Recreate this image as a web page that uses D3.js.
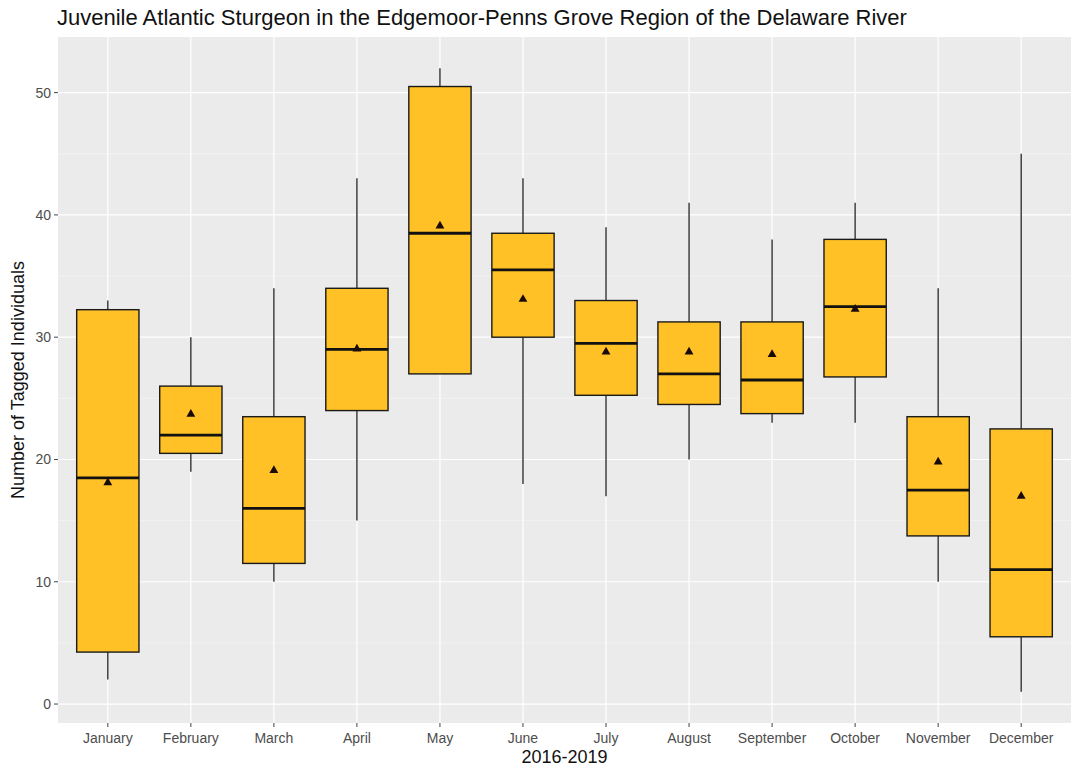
<!DOCTYPE html>
<html>
<head>
<meta charset="utf-8">
<script src="https://cdn.jsdelivr.net/npm/d3@7/dist/d3.min.js"></script>
<style>
  html, body { margin: 0; padding: 0; background: #ffffff; }
  svg { display: block; font-family: "Liberation Sans", Arial, sans-serif; }
</style>
</head>
<body>
<svg id="chart" width="1073" height="783"></svg>
<script>
// Monthly counts of tagged juvenile sturgeon, 2016-2019
const months = ["January", "February", "March", "April", "May", "June",
                "July", "August", "September", "October", "November", "December"];
const whiskerLow  = [2,    19,   10,   15, 27,   18,   17,    20,    23,    23,    10,   1];
const q1          = [4.25, 20.5, 11.5, 24, 27,   30,   25.25, 24.5,  23.75, 26.75, 13.75, 5.5];
const medians     = [18.5, 22,   16,   29, 38.5, 35.5, 29.5,  27,    26.5,  32.5,  17.5, 11];
const q3          = [32.25, 26,  23.5, 34, 50.5, 38.5, 33,    31.25, 31.25, 38,    23.5, 22.5];
const whiskerHigh = [33,   30,   34,   43, 52,   43,   39,    41,    38,    41,    34,   45];
const means       = [18.1, 23.7, 19.1, 29.05, 39.1, 33.1, 28.8, 28.8, 28.6, 32.3, 19.8, 17.0];
const yTicks = [0, 10, 20, 30, 40, 50];
const yMinorTicks = [5, 15, 25, 35, 45];

const rows = months.map((m, i) => ({
  month: m, lo: whiskerLow[i], q1: q1[i], med: medians[i],
  q3: q3[i], hi: whiskerHigh[i], mean: means[i]
}));

const svg = d3.select("#chart");
const panel = { left: 58, right: 1071, top: 37, bottom: 723 };

// 5% expansion on each side of the data range
const dataMin = d3.min(whiskerLow), dataMax = d3.max(whiskerHigh);
const pad = (dataMax - dataMin) * 0.05;
const y = d3.scaleLinear()
  .domain([dataMin - pad, dataMax + pad])
  .range([panel.bottom, panel.top]);

// discrete x scale: categories 1..12 with 0.6 units of padding at each end
const xPos = d3.scaleLinear()
  .domain([0.4, months.length + 0.6])
  .range([panel.left, panel.right]);
const cx = m => xPos(months.indexOf(m) + 1);
const boxW = xPos(1.75) - xPos(1);

// Panel background
svg.append("rect")
  .attr("x", panel.left).attr("y", panel.top)
  .attr("width", panel.right - panel.left)
  .attr("height", panel.bottom - panel.top)
  .attr("fill", "#EBEBEB");

// Grid lines
const grid = svg.append("g");
grid.selectAll("line.minor").data(yMinorTicks).join("line")
  .attr("x1", panel.left).attr("x2", panel.right)
  .attr("y1", d => y(d)).attr("y2", d => y(d))
  .attr("stroke", "#F7F7F7").attr("stroke-width", 0.6);
grid.selectAll("line.major").data(yTicks).join("line")
  .attr("x1", panel.left).attr("x2", panel.right)
  .attr("y1", d => y(d)).attr("y2", d => y(d))
  .attr("stroke", "#FFFFFF").attr("stroke-width", 1.2);
grid.selectAll("line.vert").data(months).join("line")
  .attr("x1", d => cx(d)).attr("x2", d => cx(d))
  .attr("y1", panel.top).attr("y2", panel.bottom)
  .attr("stroke", "#FFFFFF").attr("stroke-width", 1.2);

// Boxplots
const boxes = svg.append("g").selectAll("g").data(rows).join("g");
boxes.append("line")
  .attr("x1", d => cx(d.month)).attr("x2", d => cx(d.month))
  .attr("y1", d => y(d.hi)).attr("y2", d => y(d.q3))
  .attr("stroke", "#222").attr("stroke-width", 1.3);
boxes.append("line")
  .attr("x1", d => cx(d.month)).attr("x2", d => cx(d.month))
  .attr("y1", d => y(d.q1)).attr("y2", d => y(d.lo))
  .attr("stroke", "#222").attr("stroke-width", 1.3);
boxes.append("rect")
  .attr("x", d => cx(d.month) - boxW / 2)
  .attr("width", boxW)
  .attr("y", d => y(d.q3))
  .attr("height", d => y(d.q1) - y(d.q3))
  .attr("fill", "#FFC125")
  .attr("stroke", "#1a1a1a").attr("stroke-width", 1.4);
boxes.append("line")
  .attr("x1", d => cx(d.month) - boxW / 2).attr("x2", d => cx(d.month) + boxW / 2)
  .attr("y1", d => y(d.med)).attr("y2", d => y(d.med))
  .attr("stroke", "#111").attr("stroke-width", 2.8);
// Mean markers (filled triangles)
const tri = d3.symbol().type(d3.symbolTriangle).size(34);
boxes.append("path")
  .attr("d", tri)
  .attr("transform", d => `translate(${cx(d.month)},${y(d.mean)})`)
  .attr("fill", "#1a0a0a");

// Y axis ticks and labels
const yAxis = svg.append("g");
yAxis.selectAll("line").data(yTicks).join("line")
  .attr("x1", panel.left - 4).attr("x2", panel.left)
  .attr("y1", d => y(d)).attr("y2", d => y(d))
  .attr("stroke", "#444").attr("stroke-width", 1);
yAxis.selectAll("text").data(yTicks).join("text")
  .attr("x", panel.left - 7).attr("y", d => y(d))
  .attr("dy", "0.35em").attr("text-anchor", "end")
  .attr("font-size", 14).attr("fill", "#4D4D4D")
  .text(d => d);

// X axis ticks and labels
const xAxis = svg.append("g");
xAxis.selectAll("line").data(months).join("line")
  .attr("x1", d => cx(d)).attr("x2", d => cx(d))
  .attr("y1", panel.bottom).attr("y2", panel.bottom + 4)
  .attr("stroke", "#444").attr("stroke-width", 1);
xAxis.selectAll("text").data(months).join("text")
  .attr("x", d => cx(d)).attr("y", panel.bottom + 20)
  .attr("text-anchor", "middle")
  .attr("font-size", 14).attr("fill", "#4D4D4D")
  .text(d => d);

// Titles
svg.append("text")
  .attr("x", 57).attr("y", 25)
  .attr("font-size", 22).attr("fill", "#111")
  .text("Juvenile Atlantic Sturgeon in the Edgemoor-Penns Grove Region of the Delaware River");
svg.append("text")
  .attr("x", (panel.left + panel.right) / 2).attr("y", 763)
  .attr("text-anchor", "middle")
  .attr("font-size", 18).attr("fill", "#111")
  .text("2016-2019");
svg.append("text")
  .attr("transform", `translate(24,${(panel.top + panel.bottom) / 2}) rotate(-90)`)
  .attr("text-anchor", "middle")
  .attr("font-size", 18).attr("fill", "#111")
  .text("Number of Tagged Individuals");
</script>
</body>
</html>
